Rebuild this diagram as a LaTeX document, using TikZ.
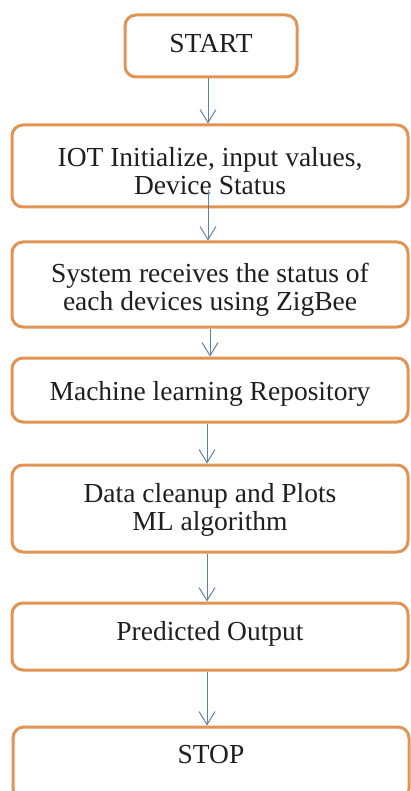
\documentclass[tikz,border=0pt]{standalone}
\usepackage{fontspec}
\setmainfont{Liberation Serif}
\usetikzlibrary{arrows.meta}
\definecolor{boxorange}{RGB}{226,148,84}
\definecolor{arrowblue}{RGB}{98,128,168}
\newcommand{\fsz}{\fontsize{27.5}{28}\selectfont}
\tikzset{
  box/.style={draw=boxorange, line width=3pt, rounded corners=11pt, fill=white, inner sep=0pt},
  lbl/.style={font=\fsz, align=center, anchor=base, inner sep=0pt, text=black!88},
  arr/.style={draw=arrowblue, line width=1pt, -{Straight Barb[length=13pt,width=16pt,line width=1pt]}}
}
\begin{document}
\begin{tikzpicture}[x=1pt,y=-1pt]
\useasboundingbox (0,0) rectangle (411,791);
\fill[white] (0,0) rectangle (411,791);
% boxes
\node[box, minimum width=172pt, minimum height=62pt] (b1) at (211,46) {};
\node[box, minimum width=396pt, minimum height=82pt] (b2) at (210,166) {};
\node[box, minimum width=396pt, minimum height=85pt] (b3) at (210,284.5) {};
\node[box, minimum width=396pt, minimum height=64pt] (b4) at (210,390) {};
\node[box, minimum width=396pt, minimum height=87pt] (b5) at (210,508.5) {};
\node[box, minimum width=396pt, minimum height=67pt] (b6) at (210,636.5) {};
\node[box, minimum width=396pt, minimum height=73pt] (b7) at (211,763.5) {};
% texts
\node[lbl] (t1) at (211,53) {START};
\node[lbl] (t2a) at (210,167) {IOT Initialize, input values,};
\node[lbl] (t2b) at (210,195) {Device Status};
\node[lbl] (t3a) at (210,282) {System receives the status of};
\node[lbl] (t3b) at (210,310) {each devices using ZigBee};
\node[lbl] (t4) at (210,400) {Machine learning Repository};
\node[lbl] (t5a) at (210,502) {Data cleanup and Plots};
\node[lbl] (t5b) at (210,530) {ML algorithm};
\node[lbl] (t6) at (210,640) {Predicted Output};
\node[lbl] (t7) at (211,763) {STOP};
% arrows
\coordinate (s2) at (208,190);
\draw[arr] ([xshift=-3pt]b1.south) -- ([xshift=-3pt]b1.south |- b2.north);
\draw[arr] (s2) -- (s2 |- b3.north);
\draw[arr] (b3.south) -- (b3.south |- b4.north);
\draw[arr] ([xshift=-3pt]b4.south) -- ([xshift=-3pt]b4.south |- b5.north);
\draw[arr] ([xshift=-3pt]b5.south) -- ([xshift=-3pt]b5.south |- b6.north);
\draw[arr] ([xshift=-3pt]b6.south) -- ([xshift=-3pt]b6.south |- b7.north);
\end{tikzpicture}
\end{document}
